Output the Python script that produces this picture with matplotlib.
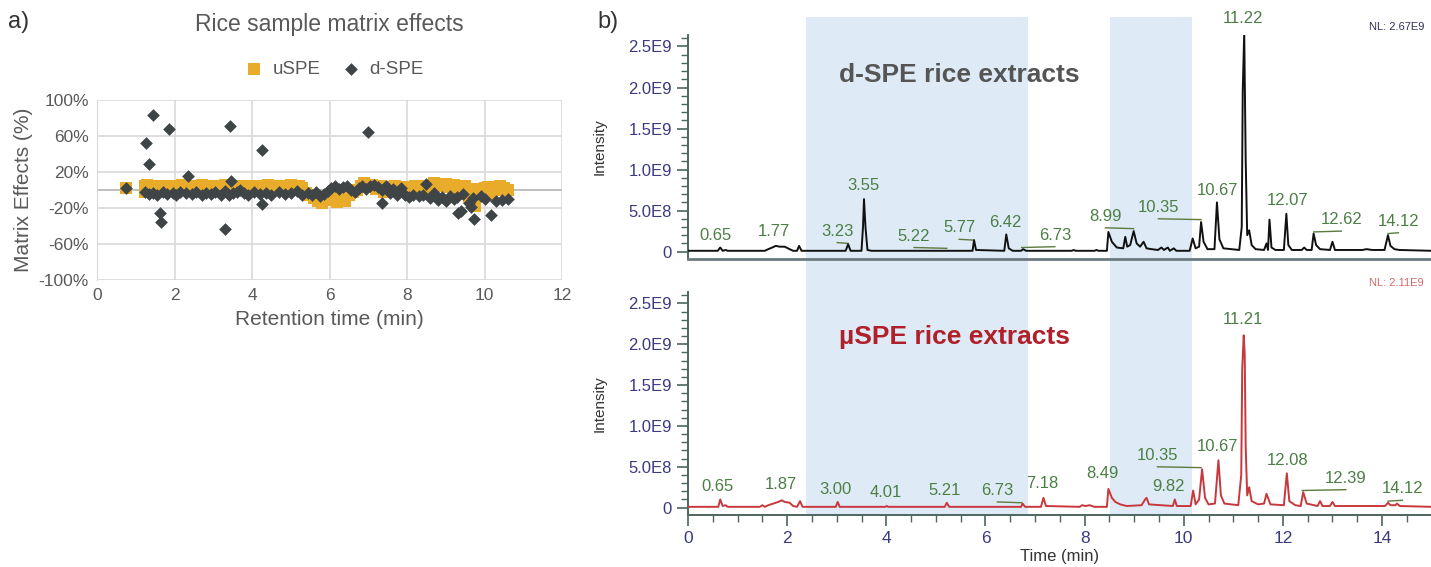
import matplotlib.pyplot as plt
from matplotlib.ticker import MultipleLocator

plt.rcParams['font.family'] = ['Liberation Sans', 'DejaVu Sans']

W, H = 1431, 567

# ---- a) matrix effects: retention time (min), effect (%)
uspe_t = [0.75, 1.25, 1.25, 1.3, 1.4, 1.5, 1.6, 1.7, 1.8, 1.9, 2.0, 2.1, 2.2, 2.3, 2.4,
          2.5, 2.6, 2.7, 2.8, 2.9, 3.0, 3.1, 3.2, 3.3, 3.4, 3.5, 3.6, 3.7, 3.8, 3.9,
          4.0, 4.1, 4.2, 4.3, 4.4, 4.5, 4.6, 4.7, 4.8, 4.9, 5.0, 5.1, 5.2, 5.3, 5.4,
          5.5, 5.6, 5.7, 5.8, 5.9, 6.0, 6.1, 6.2, 6.3, 6.4, 6.5, 6.6, 6.7, 6.8, 6.9,
          7.0, 7.1, 7.2, 7.3, 7.4, 7.5, 7.6, 7.7, 7.8, 7.9, 8.0, 8.1, 8.2, 8.3, 8.5,
          8.6, 8.7, 8.8, 8.9, 9.0, 9.1, 9.2, 9.3, 9.4, 9.5, 9.6, 9.7, 9.75, 9.8, 9.9,
          10.0, 10.1, 10.2, 10.3, 10.4, 10.5, 10.6]
uspe_me = [2, 4, -2, 6, 2, 3, 5, 1, 4, 2, 5, 3, 6, 2, 4,
           5, 3, 6, 2, 4, 3, 5, 2, 6, 4, 2, 5, 3, 1, 4,
           2, 5, 3, 4, 6, 3, 2, 5, 4, 1, 6, 3, 5, 2, -3,
           -6, -9, -12, -14, -8, -11, -5, -13, -9, -12, -6, -2, 0, 4, 8,
           3, 6, 1, 4, -2, 3, 0, 5, 2, -1, 3, 1, 4, 2, 5,
           0, 8, 6, 4, 7, 3, 6, 2, -4, 4, -8, -13, -18, 1, -4,
           2, 3, -6, 0, 4, 2, 0]

dspe_t = [0.75, 1.25, 1.35, 1.45, 1.55, 1.7, 1.8, 1.95, 2.05, 2.15, 2.3, 2.45, 2.55,
          2.7, 2.8, 2.95, 3.05, 3.2, 3.3, 3.4, 3.5, 3.6, 3.7, 3.8, 3.9, 4.05, 4.2,
          4.35, 4.5, 4.7, 4.85, 5.0, 5.15, 5.3, 5.45, 5.55, 5.65, 5.75, 5.85, 5.95,
          6.05, 6.15, 6.25, 6.35, 6.45, 6.55, 6.65, 6.75, 6.85, 6.95, 7.05, 7.15,
          7.25, 7.35, 7.45, 7.55, 7.65, 7.75, 7.85, 7.95, 8.05, 8.15, 8.3, 8.4,
          8.6, 8.7, 8.8, 8.9, 9.0, 9.1, 9.2, 9.3, 9.45, 9.6, 9.7, 9.9, 10.0,
          10.3, 10.45, 10.6,
          1.44, 1.26, 1.34, 1.87, 2.36, 1.62, 1.64, 3.42, 3.46, 3.31, 4.25, 4.27,
          7.0, 7.35, 8.48, 9.31, 9.39, 9.74, 10.17, 9.64]
dspe_me = [2, -2, -4, -3, -5, -2, -4, -3, -6, -2, -3, -4, -2,
           -5, -3, -4, -2, -5, -1, -6, -3, -2, 0, -3, -5, -2, -4,
           -3, -6, -2, -4, -3, -1, -5, -3, -6, -2, -7, -4, -1,
           2, 4, 1, 3, 5, 0, -2, 2, 5, 1, 4, 6,
           3, 0, 4, -3, 1, -5, 2, -6, -8, -5, -7, -6,
           -9, -3, -11, -8, -12, -7, -10, -8, -4, -14, -9, -7, -10,
           -12, -11, -10,
           83, 52, 29, 68, 16, -26, -36, 71, 10, -43, 45, -16,
           64, -14, 7, -26, -23, -32, -28, -19]

# ---- b) chromatograms: time (min), intensity (x1E9)
dspe_time = [0.00, 0.60, 0.65, 0.70, 0.76, 0.80, 1.55, 1.62, 1.70, 1.77, 1.85, 1.95,
             2.05, 2.12, 2.20, 2.24, 2.29, 3.18, 3.23, 3.28, 3.50, 3.53, 3.55, 3.58,
             3.62, 3.70, 5.74, 5.77, 5.81, 6.38, 6.42, 6.47, 6.55, 6.72, 6.76, 6.82,
             7.74, 7.78, 7.82, 8.20, 8.24, 8.28, 8.45, 8.48, 8.55, 8.65, 8.78, 8.82,
             8.86, 8.92, 8.99, 9.05, 9.12, 9.19, 9.25, 9.35, 9.48, 9.55, 9.60, 9.68,
             9.72, 9.80, 9.85, 10.12, 10.18, 10.24, 10.31, 10.35, 10.40, 10.48, 10.62,
             10.67, 10.72, 10.80, 11.12, 11.17, 11.19, 11.22, 11.25, 11.28, 11.32,
             11.37, 11.45, 11.62, 11.67, 11.70, 11.73, 11.77, 11.85, 12.02, 12.07,
             12.11, 12.18, 12.38, 12.43, 12.48, 12.58, 12.62, 12.67, 12.75, 12.95,
             13.00, 13.05, 13.60, 13.69, 13.80, 14.05, 14.12, 14.17, 14.25, 14.35,
             15.00]
dspe_int = [0.01, 0.01, 0.05, 0.01, 0.02, 0.01, 0.01, 0.03, 0.05, 0.07, 0.06, 0.06,
            0.03, 0.01, 0.01, 0.07, 0.01, 0.01, 0.09, 0.01, 0.01, 0.30, 0.64, 0.30,
            0.02, 0.01, 0.01, 0.14, 0.02, 0.01, 0.21, 0.04, 0.01, 0.01, 0.03, 0.01,
            0.01, 0.02, 0.01, 0.01, 0.02, 0.01, 0.01, 0.24, 0.12, 0.05, 0.04, 0.18,
            0.06, 0.08, 0.25, 0.10, 0.06, 0.12, 0.04, 0.03, 0.02, 0.05, 0.02, 0.05,
            0.01, 0.04, 0.01, 0.01, 0.16, 0.04, 0.06, 0.36, 0.12, 0.03, 0.03,
            0.60, 0.15, 0.04, 0.02, 0.30, 1.95, 2.67, 1.11, 0.20, 0.26,
            0.08, 0.03, 0.02, 0.10, 0.02, 0.39, 0.05, 0.02, 0.02, 0.46,
            0.08, 0.02, 0.02, 0.05, 0.02, 0.02, 0.22, 0.08, 0.03, 0.02,
            0.12, 0.02, 0.02, 0.03, 0.02, 0.02, 0.20, 0.07, 0.03, 0.02,
            0.01]

uspe_time = [0.00, 0.61, 0.65, 0.70, 0.76, 0.80, 1.45, 1.50, 1.55, 1.62, 1.72, 1.82,
             1.89, 1.95, 2.05, 2.12, 2.20, 2.26, 2.31, 2.98, 3.02, 3.06, 3.98, 4.01,
             4.04, 5.18, 5.22, 5.27, 6.72, 6.75, 6.80, 7.12, 7.17, 7.22, 7.90, 7.95,
             8.02, 8.10, 8.20, 8.45, 8.48, 8.55, 8.62, 8.72, 8.85, 9.15, 9.22, 9.25,
             9.30, 9.78, 9.82, 9.86, 10.14, 10.19, 10.24, 10.31, 10.37, 10.43, 10.50,
             10.63, 10.70, 10.75, 10.82, 11.10, 11.16, 11.18, 11.21, 11.23, 11.25,
             11.28, 11.32, 11.37, 11.50, 11.62, 11.67, 11.70, 11.75, 12.02, 12.08,
             12.13, 12.25, 12.36, 12.41, 12.48, 12.70, 12.75, 12.80, 12.95, 13.00,
             13.05, 14.06, 14.12, 14.17, 14.27, 14.30, 14.36, 15.00]
uspe_int = [0.01, 0.01, 0.10, 0.02, 0.03, 0.01, 0.01, 0.03, 0.01, 0.03, 0.05, 0.07,
            0.09, 0.07, 0.06, 0.02, 0.01, 0.08, 0.01, 0.01, 0.07, 0.01, 0.01, 0.02,
            0.01, 0.01, 0.06, 0.01, 0.01, 0.05, 0.01, 0.01, 0.12, 0.02, 0.01, 0.03,
            0.02, 0.03, 0.01, 0.01, 0.23, 0.12, 0.07, 0.04, 0.02, 0.03, 0.10, 0.12,
            0.04, 0.02, 0.10, 0.02, 0.02, 0.21, 0.04, 0.10, 0.47, 0.12, 0.04,
            0.05, 0.58, 0.15, 0.05, 0.03, 0.40, 1.70, 2.11, 1.88, 0.74,
            0.15, 0.25, 0.08, 0.04, 0.05, 0.17, 0.12, 0.04, 0.03, 0.42,
            0.08, 0.03, 0.02, 0.19, 0.05, 0.02, 0.08, 0.02, 0.02, 0.07,
            0.02, 0.02, 0.06, 0.03, 0.03, 0.05, 0.02, 0.01]

# peak labels: text (= peak time), label x, label y
dspe_lab = ['0.65', '1.77', '3.23', '3.55', '5.22', '5.77', '6.42', '6.73', '8.99',
            '10.35', '10.67', '11.22', '12.07', '12.62', '14.12']
dspe_lab_x = [0.56, 1.74, 3.01, 3.54, 4.56, 5.47, 6.40, 7.40, 8.42,
              9.49, 10.68, 11.20, 12.09, 13.18, 14.33]
dspe_lab_y = [0.20, 0.25, 0.25, 0.80, 0.19, 0.29, 0.35, 0.20, 0.43,
              0.54, 0.75, 2.84, 0.62, 0.39, 0.37]

uspe_lab = ['0.65', '1.87', '3.00', '4.01', '5.21', '6.73', '7.18', '8.49', '9.82',
            '10.35', '10.67', '11.21', '12.08', '12.39', '14.12']
uspe_lab_x = [0.59, 1.87, 2.98, 3.99, 5.18, 6.24, 7.15, 8.36, 9.70,
              9.47, 10.68, 11.20, 12.09, 13.27, 14.41]
uspe_lab_y = [0.26, 0.28, 0.22, 0.18, 0.21, 0.21, 0.30, 0.42, 0.26,
              0.64, 0.75, 2.30, 0.58, 0.36, 0.23]

shade_spans = [(2.38, 6.86), (8.51, 10.16)]
int_ticks = [0, 0.5, 1.0, 1.5, 2.0, 2.5]
int_ticklabels = ['0', '5.0E8', '1.0E9', '1.5E9', '2.0E9', '2.5E9']

GOLD = '#e9ac2a'
DARK = '#3f4447'
GRAY = '#595959'
NAVY = '#3a3a80'
LABC = '#4b7f45'

fig = plt.figure(figsize=(W / 100, H / 100), dpi=100)


def frac(x0, y0, x1, y1):
    return [x0 / W, 1 - y1 / H, (x1 - x0) / W, (y1 - y0) / H]


# ---------------- panel a
ax = fig.add_axes(frac(97, 100, 562, 280))
ax.scatter(uspe_t, uspe_me, marker='s', s=72, color=GOLD, label='uSPE', zorder=3, lw=0)
ax.scatter(dspe_t, dspe_me, marker='D', s=42, color=DARK, label='d-SPE', zorder=4, lw=0)
ax.set_xlim(0, 12)
ax.set_ylim(-100, 100)
ax.set_xticks(range(0, 13, 2))
ax.set_yticks(range(-100, 101, 40))
ax.set_yticklabels([f'{v}%' for v in range(-100, 101, 40)])
ax.grid(True, color='#d9d9d9', lw=1.2)
ax.axhline(0, color='#bfbfbf', lw=1.4, zorder=2)
ax.set_axisbelow(True)
for s in ['top', 'right', 'bottom']:
    ax.spines[s].set_visible(False)
ax.spines['left'].set_color('#d9d9d9')
ax.tick_params(length=0, labelsize=12.5, colors=GRAY, pad=6)
ax.set_xlabel('Retention time (min)', fontsize=15, color=GRAY, labelpad=5)
ax.set_ylabel('Matrix Effects (%)', fontsize=15, color=GRAY, labelpad=4)
ax.set_title('Rice sample matrix effects', fontsize=16.5, color=GRAY, pad=50)
ax.legend(loc='lower center', bbox_to_anchor=(0.5, 1.03), ncol=2, frameon=False,
          fontsize=13.5, labelcolor=GRAY, handletextpad=0.0, columnspacing=0.6,
          markerscale=1.0)
fig.text(8 / W, 1 - 22 / H, 'a)', fontsize=17, color='#333333', va='center')
fig.text(597 / W, 1 - 22 / H, 'b)', fontsize=17, color='#333333', va='center')

# ---------------- panel b shading
bg = fig.add_axes(frac(688, 17, 1431.6, 515), zorder=0)
bg.set_xlim(0, 15)
for a, b in shade_spans:
    bg.axvspan(a, b, color='#deebf6', lw=0)
bg.axis('off')


def chrom(box, t, y, color, labs, lx, ly, bottom):
    c = fig.add_axes(frac(*box), zorder=1)
    c.patch.set_alpha(0)
    c.plot(t, y, color=color, lw=1.4, zorder=3)
    c.set_xlim(0, 15)
    c.set_ylim(-0.09, 2.64)
    pk = [float(s) for s in labs]
    for s, p, x, yy in zip(labs, pk, lx, ly):
        c.text(x, yy, s, ha='center', va='center', fontsize=12, color=LABC)
        if abs(x - p) > 0.15:
            c.plot([x, p], [yy - 0.14, yy - 0.15], color='#5d7a3e', lw=1)
    for s in ['top', 'right']:
        c.spines[s].set_visible(False)
    c.spines['left'].set_color('#4d6660')
    c.spines['left'].set_linewidth(1.4)
    c.set_yticks(int_ticks)
    c.set_yticklabels(int_ticklabels)
    c.yaxis.set_minor_locator(MultipleLocator(0.1))
    c.tick_params(axis='y', which='major', length=8, width=1.2, colors='#4d6660',
                  labelcolor=NAVY, labelsize=12)
    c.tick_params(axis='y', which='minor', length=5, width=1.0, colors='#4d6660')
    c.set_ylabel('Intensity', fontsize=11, color='#333333', labelpad=16)
    if bottom:
        c.spines['bottom'].set_color('#4d6660')
        c.spines['bottom'].set_linewidth(1.4)
        c.set_xticks(range(0, 15, 2))
        c.xaxis.set_minor_locator(MultipleLocator(0.5))
        c.tick_params(axis='x', which='major', length=8, width=1.2, colors='#4d6660',
                      labelcolor=NAVY, labelsize=12.5)
        c.tick_params(axis='x', which='minor', length=5, width=1.0, colors='#4d6660')
        c.set_xlabel('Time (min)', fontsize=12, color='#333333', labelpad=2)
    else:
        c.spines['bottom'].set_color('#6a7a80')
        c.spines['bottom'].set_linewidth(2)
        c.set_xticks([])
    return c


top = chrom((688, 35, 1431.6, 259), dspe_time, dspe_int, '#111111',
            dspe_lab, dspe_lab_x, dspe_lab_y, False)
bot = chrom((688, 292, 1431.6, 515), uspe_time, uspe_int, '#c8383c',
            uspe_lab, uspe_lab_x, uspe_lab_y, True)

top.text(0.203, 0.82, 'd-SPE rice extracts', transform=top.transAxes, fontsize=19,
         color='#555555', fontweight='bold', va='center')
bot.text(0.203, 0.80, 'µSPE rice extracts', transform=bot.transAxes, fontsize=19,
         color='#b0202a', fontweight='bold', va='center')
fig.text(1424 / W, 1 - 27 / H, 'NL: 2.67E9', fontsize=8, color='#333355', ha='right',
         va='center')
fig.text(1424 / W, 1 - 283 / H, 'NL: 2.11E9', fontsize=8, color='#d06a6a', ha='right',
         va='center')

fig.savefig('out.png', dpi=100)
